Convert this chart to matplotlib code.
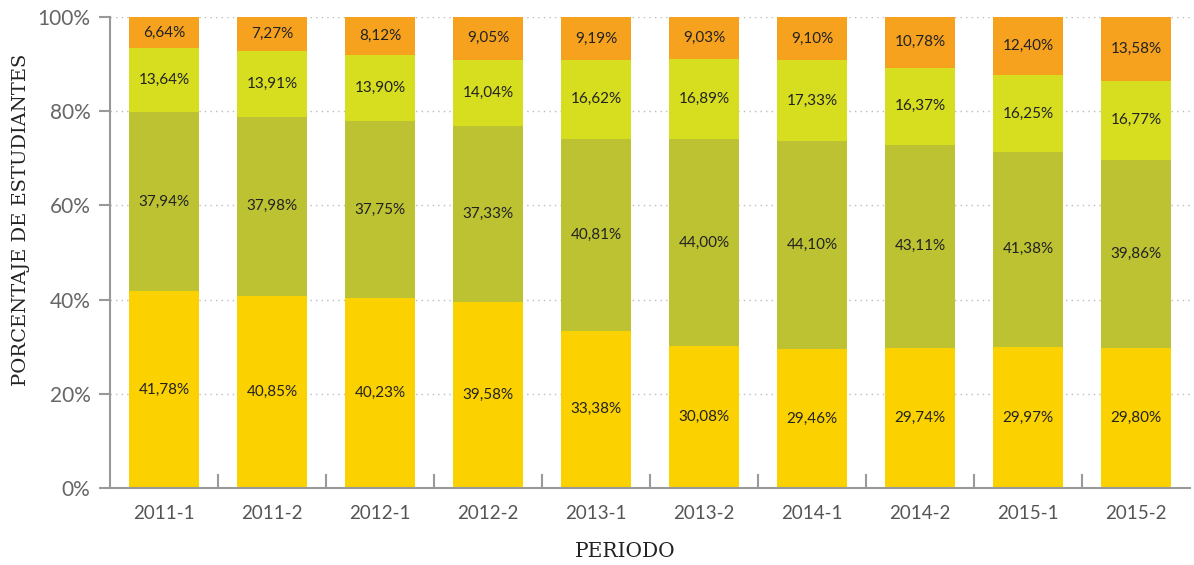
import matplotlib
matplotlib.use('Agg')
import matplotlib.pyplot as plt
import numpy as np

# Datos
periodos = ['2011-1', '2011-2', '2012-1', '2012-2', '2013-1',
            '2013-2', '2014-1', '2014-2', '2015-1', '2015-2']
serie_1 = [41.78, 40.85, 40.23, 39.58, 33.38, 30.08, 29.46, 29.74, 29.97, 29.80]
serie_2 = [37.94, 37.98, 37.75, 37.33, 40.81, 44.00, 44.10, 43.11, 41.38, 39.86]
serie_3 = [13.64, 13.91, 13.90, 14.04, 16.62, 16.89, 17.33, 16.37, 16.25, 16.77]
serie_4 = [6.64, 7.27, 8.12, 9.05, 9.19, 9.03, 9.10, 10.78, 12.40, 13.58]

colores = ['#FBD200', '#BDC232', '#D6DE1F', '#F6A21E']
series = [serie_1, serie_2, serie_3, serie_4]

fig = plt.figure(figsize=(11.94, 5.65), dpi=100)
ax = fig.add_axes([0.0921, 0.1363, 0.9045, 0.8337])

x = np.arange(len(periodos))
bottom = np.zeros(len(periodos))
for vals, col in zip(series, colores):
    vals = np.array(vals)
    ax.bar(x, vals, 0.65, bottom=bottom, color=col, zorder=2)
    for xi, b, v in zip(x, bottom, vals):
        ax.text(xi, b + v / 2, f'{v:.2f}%'.replace('.', ','), ha='center', va='center',
                fontsize=11, color='#222222', family='Lato', zorder=3)
    bottom += vals

ax.set_xlim(-0.5, len(periodos) - 0.5)
ax.set_ylim(0, 100)
ax.set_yticks([0, 20, 40, 60, 80, 100])
ax.set_yticklabels(['0%', '20%', '40%', '60%', '80%', '100%'])
ax.set_xticks(x)
ax.set_xticklabels(periodos)
ax.set_xticks(x[:-1] + 0.5, minor=True)

for s in ['top', 'right']:
    ax.spines[s].set_visible(False)
for s in ['left', 'bottom']:
    ax.spines[s].set_color('#999999')
    ax.spines[s].set_linewidth(1.5)

ax.tick_params(axis='y', length=8, width=1.5, color='#999999', labelcolor='#666666',
               labelsize=15, pad=6)
ax.tick_params(axis='x', which='major', length=0, labelcolor='#555555', labelsize=13.5, pad=12)
ax.tick_params(axis='x', which='minor', direction='in', length=10, width=1.5, color='#999999')
for lab in ax.get_yticklabels() + ax.get_xticklabels():
    lab.set_family('Lato')

ax.grid(axis='y', linestyle=(0, (1, 3)), color='#bbbbbb', linewidth=1, zorder=0)
ax.set_axisbelow(True)

ax.set_ylabel('PORCENTAJE DE ESTUDIANTES', family='DejaVu Serif', fontsize=14,
              color='#222222')
ax.yaxis.set_label_coords(-0.074, 0.57)
ax.set_xlabel('PERIODO', family='DejaVu Serif', fontsize=14.5, color='#222222')
ax.xaxis.set_label_coords(0.477, -0.115)

fig.savefig('out.png', dpi=100)
